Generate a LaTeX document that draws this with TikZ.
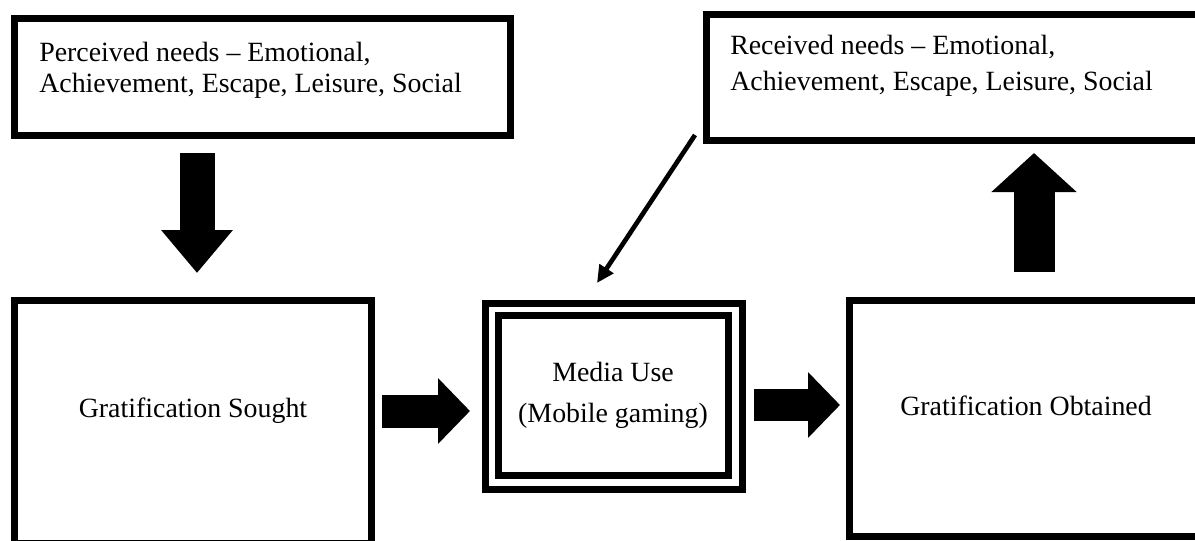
\documentclass[tikz,border=0pt]{standalone}
\usepackage{fontspec}
\setmainfont{Liberation Serif}
\usetikzlibrary{arrows.meta}

\begin{document}
\begin{tikzpicture}[x=0.75pt,y=0.75pt,yscale=-1,xscale=1,
  box/.style={draw,rectangle,line width=5.25pt,inner sep=0pt,outer sep=0pt},
  txt/.style={inner sep=0pt,font=\fontsize{20.9pt}{25pt}\selectfont},
  fatarrow/.style={line cap=butt,draw=black}]
%set diagram to 1195 x 540
\useasboundingbox (0,0) rectangle (1195,540);
\clip (0,0) rectangle (1195,540);

%Shape: Rectangle [perceived needs]
\node (percv) at (262.5,77) [box,minimum width=372pt,minimum height=87.75pt] {};
%Shape: Rectangle [received needs]
\node (recv) at (954,77.5) [box,minimum width=371.25pt,minimum height=94.5pt] {};
%Shape: Rectangle [sought]
\node (sought) at (193,422) [box,minimum width=267.75pt,minimum height=182.25pt] {};
%Shape: Rectangle [obtained]
\node (obtnd) at (1028,418.5) [box,minimum width=267.75pt,minimum height=177pt] {};
%Shape: Rectangle [media use, double frame]
\node (media) at (614,396.5) [box,minimum width=192.75pt,minimum height=139.5pt] {};
\node (mediain) at (613.5,395.5) [box,minimum width=172.5pt,minimum height=120pt] {};

% Text Node
\node (percvA) at (39,61) [txt,anchor=base west] {Perceived needs – Emotional,};
% Text Node
\node (percvB) at (39,92) [txt,anchor=base west] {Achievement, Escape, Leisure, Social};
% Text Node
\node (recvA) at (730,54) [txt,anchor=base west] {Received needs – Emotional,};
% Text Node
\node (recvB) at (730,90) [txt,anchor=base west] {Achievement, Escape, Leisure, Social};
% Text Node
\node (soughtT) at (193,417) [txt,anchor=base] {Gratification Sought};
% Text Node
\node (mediaA) at (613,381) [txt,anchor=base] {Media Use};
% Text Node
\node (mediaB) at (613,422) [txt,anchor=base] {(Mobile gaming)};
% Text Node
\node (obtndT) at (1026,415) [txt,anchor=base] {Gratification Obtained};

%Arrow ends
\coordinate (dnS) at (197,153);
\coordinate (dnE) at (197,273);
\coordinate (gsS) at (382,411);
\coordinate (gsE) at (470,411);
\coordinate (muS) at (754,405);
\coordinate (muE) at (840,405);
\coordinate (upS) at (1034,272);
\coordinate (upE) at (1034,153);
\coordinate (fbS) at (695,135);
\coordinate (fbE) at (597,283);

%Block Arrows
\draw [fatarrow,line width=26.25pt,-{Triangle[length=32.25pt,width=51.75pt]}] (dnS) -- (dnE);
\draw [fatarrow,line width=24.75pt,-{Triangle[length=24pt,width=48pt]}] (gsS) -- (gsE);
\draw [fatarrow,line width=24pt,-{Triangle[length=24pt,width=48pt]}] (muS) -- (muE);
\draw [fatarrow,line width=30.75pt,-{Triangle[length=29.25pt,width=62.25pt]}] (upS) -- (upE);
%Straight Lines
\draw [line width=3.5pt,-{Triangle[length=13pt,width=12pt]}] (fbS) -- (fbE);

\end{tikzpicture}
\end{document}
